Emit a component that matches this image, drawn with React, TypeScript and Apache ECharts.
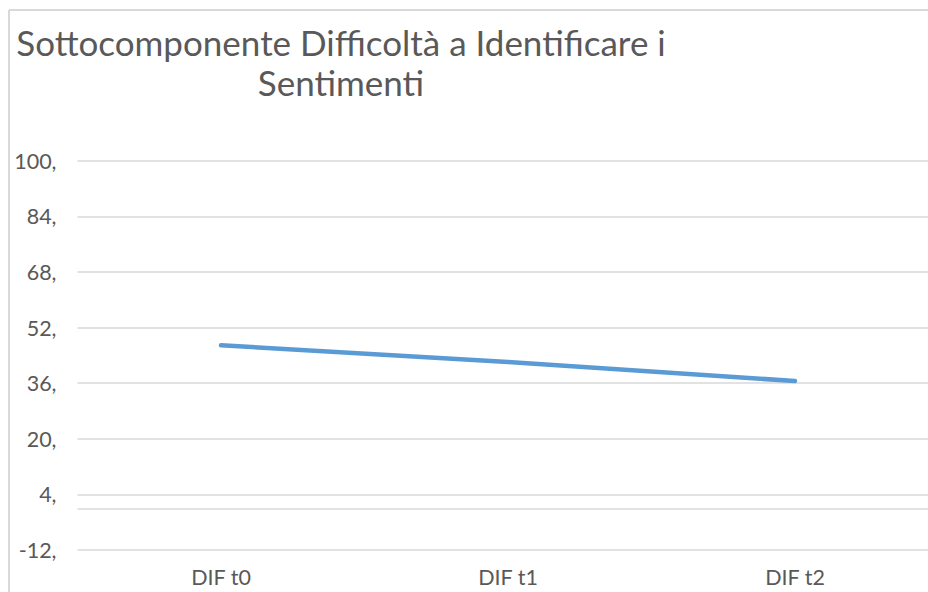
import React, { useEffect, useRef } from "react";
import * as echarts from "echarts";

const titleText = "Sottocomponente Difficoltà a Identificare i\nSentimenti";
const categories = ["DIF t0", "DIF t1", "DIF t2"];
const seriesValues = [46.9, 42.1, 36.6];
const yMin = -12;
const yMax = 100;
const yStep = 16;
const baselineValue = 0;

export default function App() {
  const ref = useRef<HTMLDivElement | null>(null);

  useEffect(() => {
    if (!ref.current) return;
    document.documentElement.style.overflow = "hidden";
    document.body.style.overflow = "hidden";
    const chart = echarts.init(ref.current, null, { renderer: "svg" });
    const font = "Lato";
    chart.setOption({
      animation: false,
      backgroundColor: "#ffffff",
      title: {
        text: titleText,
        left: 336,
        top: 17,
        textAlign: "center",
        textStyle: {
          fontFamily: font,
          fontWeight: "normal",
          fontSize: 35,
          lineHeight: 40,
          color: "#595959",
        },
      },
      graphic: [
        {
          type: "line",
          shape: { x1: 9, y1: 10, x2: 9, y2: 700 },
          style: { stroke: "#d9d9d9", lineWidth: 2 },
          silent: true,
        },
        {
          type: "line",
          shape: { x1: 9, y1: 10, x2: 1200, y2: 10 },
          style: { stroke: "#d9d9d9", lineWidth: 2 },
          silent: true,
        },
      ],
      grid: { left: 77.5, top: 160.7, width: 861, height: 389.3, containLabel: false },
      xAxis: {
        type: "category",
        data: categories,
        boundaryGap: true,
        axisLine: { show: false, onZero: false },
        axisTick: { show: false },
        axisLabel: { fontFamily: font, fontSize: 21.5, color: "#595959", margin: 16 },
        splitLine: { show: false },
      },
      yAxis: {
        type: "value",
        min: yMin,
        max: yMax,
        interval: yStep,
        axisLine: { show: false },
        axisTick: { show: false },
        axisLabel: {
          fontFamily: font,
          fontSize: 21.5,
          color: "#595959",
          margin: 21,
          formatter: (v: number) => `${v},`,
        },
        splitLine: { lineStyle: { color: "#d9d9d9", width: 1.5 } },
      },
      series: [
        {
          type: "line",
          data: seriesValues,
          showSymbol: false,
          symbol: "none",
          lineStyle: { color: "#5b9bd5", width: 4.5, cap: "round", join: "round" },
          itemStyle: { color: "#5b9bd5" },
          markLine: {
            silent: true,
            symbol: ["none", "none"],
            label: { show: false },
            lineStyle: { color: "#d9d9d9", width: 1.5, type: "solid" },
            data: [{ yAxis: baselineValue }],
            z: 1,
          },
          z: 5,
        },
      ],
    });
    return () => chart.dispose();
  }, []);

  return (
    <div
      ref={ref}
      style={{
        position: "fixed",
        left: 0,
        top: 0,
        width: 940,
        height: 592,
        background: "#ffffff",
      }}
    />
  );
}
